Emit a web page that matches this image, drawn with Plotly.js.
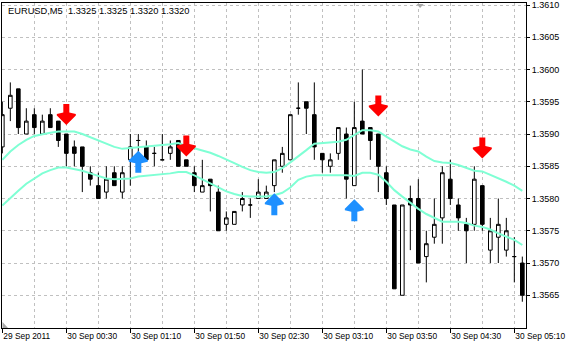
<!DOCTYPE html>
<html>
<head>
<meta charset="utf-8">
<script src="https://cdn.plot.ly/plotly-3.0.1.min.js"></script>
<style>html,body{margin:0;padding:0;background:#fff;overflow:hidden;}#chart{width:566px;height:346px;}</style>
</head>
<body>
<div id="chart"></div>
<script>
// ---- data (EURUSD, M5) ----
const openP  = [1.3588,1.3594,1.3597,1.3590,1.3593,1.3590,1.3593,1.3592,1.3590,1.3588,
                1.3588,1.3584,1.3582,1.3581,1.3584,1.3581,1.3586,1.3589,1.3588,1.3587,
                1.3586,1.3587,1.3589,1.3586,1.3584,1.3581,1.3583,1.3581,1.3576,1.3576,
                1.3579,1.3579,1.3580,1.3580,1.3582,1.3585,1.3586,1.3594,1.3595,1.3593,
                1.3587,1.3585,1.3587,1.3590,1.3582,1.3592,1.3591,1.3590,1.3584,1.3579,
                1.3565,1.3580,1.3580,1.3571,1.3574,1.3577,1.3583,1.3579,1.3576,1.3576,
                1.3582,1.3572,1.3574,1.3572,1.3571,1.3570];
const highP  = [1.3595,1.3598,1.3597,1.3594,1.3594,1.3593,1.3594,1.3592,1.3590,1.3589,
                1.3588,1.3585,1.3584,1.3585,1.3585,1.3585,1.3590,1.3590,1.3589,1.3588,
                1.3590,1.3589,1.3589,1.3586,1.3585,1.3586,1.3583,1.3582,1.3578,1.3578,
                1.3581,1.3580,1.3583,1.3582,1.3586,1.3588,1.3593,1.3598,1.3595,1.3598,
                1.3587,1.3587,1.3591,1.3591,1.3595,1.3600,1.3591,1.3590,1.3585,1.3579,
                1.3579,1.3582,1.3583,1.3575,1.3580,1.3585,1.3586,1.3580,1.3577,1.3585,
                1.3582,1.3577,1.3580,1.3577,1.3574,1.3571];
const lowP   = [1.3587,1.3592,1.3590,1.3590,1.3590,1.3590,1.3591,1.3588,1.3585,1.3585,
                1.3581,1.3582,1.3580,1.3580,1.3582,1.3580,1.3582,1.3586,1.3586,1.3585,
                1.3586,1.3586,1.3585,1.3585,1.3581,1.3581,1.3578,1.3575,1.3575,1.3576,
                1.3578,1.3577,1.3580,1.3580,1.3581,1.3584,1.3586,1.3593,1.3590,1.3586,
                1.3584,1.3584,1.3586,1.3580,1.3582,1.3590,1.3586,1.3581,1.3579,1.3566,
                1.3565,1.3572,1.3570,1.3567,1.3573,1.3573,1.3579,1.3575,1.3570,1.3575,
                1.3575,1.3570,1.3570,1.3571,1.3567,1.3564];
const closeP = [1.3593,1.3596,1.3591,1.3592,1.3591,1.3592,1.3591,1.3589,1.3587,1.3587,
                1.3585,1.3583,1.3580,1.3583,1.3582,1.3584,1.3588,1.3589,1.3586,1.3587,
                1.3586,1.3588,1.3585,1.3585,1.3582,1.3582,1.3582,1.3575,1.3577,1.3578,
                1.3580,1.3579,1.3581,1.3581,1.3586,1.3587,1.3593,1.3594,1.3594,1.3588,
                1.3586,1.3586,1.3591,1.3583,1.3591,1.3590,1.3589,1.3585,1.3580,1.3566,
                1.3579,1.3579,1.3570,1.3573,1.3576,1.3584,1.3580,1.3577,1.3575,1.3583,
                1.3576,1.3575,1.3576,1.3575,1.3571,1.3565];
const upperBand = [1.35860,1.35873,1.35883,1.35891,1.35897,1.35900,1.35902,1.35904,1.35904,1.35904,
                   1.35900,1.35895,1.35889,1.35885,1.35880,1.35877,1.35878,1.35879,1.35881,1.35881,
                   1.35882,1.35884,1.35886,1.35881,1.35878,1.35875,1.35871,1.35866,1.35861,1.35855,
                   1.35849,1.35844,1.35841,1.35840,1.35841,1.35847,1.35856,1.35865,1.35875,1.35885,
                   1.35886,1.35886,1.35888,1.35891,1.35898,1.35906,1.35906,1.35904,1.35896,1.35888,
                   1.35881,1.35876,1.35873,1.35865,1.35858,1.35856,1.35855,1.35852,1.35847,1.35843,
                   1.35842,1.35837,1.35831,1.35826,1.35820,1.35812];
const lowerBand = [1.35789,1.35801,1.35812,1.35823,1.35831,1.35839,1.35844,1.35848,1.35848,1.35846,
                   1.35843,1.35839,1.35835,1.35831,1.35830,1.35830,1.35831,1.35834,1.35835,1.35836,
                   1.35837,1.35839,1.35841,1.35841,1.35836,1.35830,1.35824,1.35817,1.35811,1.35807,
                   1.35804,1.35803,1.35803,1.35803,1.35805,1.35809,1.35817,1.35829,1.35834,1.35836,
                   1.35836,1.35836,1.35837,1.35836,1.35835,1.35840,1.35840,1.35837,1.35826,1.35813,
                   1.35803,1.35793,1.35784,1.35776,1.35770,1.35764,1.35764,1.35764,1.35762,1.35758,
                   1.35756,1.35752,1.35746,1.35741,1.35736,1.35728];
const sellBars   = [8, 23, 47, 60];
const sellPrices = [1.35914, 1.35865, 1.35927, 1.35862];
const buyBars    = [17, 34, 44];
const buyPrices  = [1.35874, 1.35808, 1.35799];
const tickBars   = [0, 8, 16, 24, 32, 40, 48, 56, 64];
const tickLabels = ['29 Sep 2011','30 Sep 00:30','30 Sep 01:10','30 Sep 01:50','30 Sep 02:30',
                    '30 Sep 03:10','30 Sep 03:50','30 Sep 04:30','30 Sep 05:10'];
const priceTicks = [1.3565,1.3570,1.3575,1.3580,1.3585,1.3590,1.3595,1.3600,1.3605,1.3610];
const headerText = 'EURUSD,M5  1.3325 1.3325 1.3320 1.3320';

// ---- build ----
const barIdx = openP.map((_, i) => i);
const FONT = 'Liberation Sans, Arial, sans-serif';
const BAND = '#7fffd4';

const traces = [
  {
    type: 'candlestick', x: barIdx, open: openP, high: highP, low: lowP, close: closeP,
    increasing: {line: {color: '#000', width: 1}, fillcolor: '#ffffff'},
    decreasing: {line: {color: '#000', width: 1}, fillcolor: '#000000'},
    whiskerwidth: 0, hoverinfo: 'skip', showlegend: false
  },
  {type: 'scatter', mode: 'lines', x: barIdx, y: upperBand, line: {color: BAND, width: 2}, hoverinfo: 'skip', showlegend: false},
  {type: 'scatter', mode: 'lines', x: barIdx, y: lowerBand, line: {color: BAND, width: 2}, hoverinfo: 'skip', showlegend: false}
];

// arrow glyph outlines in pixels relative to the tip (y up)
const downPath = 'M0,0 L9.5,9.5 L9.5,11 L3,12.5 L3,21 L-3,21 L-3,12.5 L-9.5,11 L-9.5,9.5 Z';
const upPath   = 'M0,0 L9.5,-9.5 L9.5,-11 L3,-12.5 L3,-22 L-3,-22 L-3,-12.5 L-9.5,-11 L-9.5,-9.5 Z';
const shapes = [];
sellBars.forEach((b, k) => shapes.push({
  type: 'path', xref: 'x', yref: 'y', xsizemode: 'pixel', ysizemode: 'pixel',
  xanchor: b, yanchor: sellPrices[k], path: downPath,
  fillcolor: '#ff0000', line: {width: 0}, layer: 'above'
}));
buyBars.forEach((b, k) => shapes.push({
  type: 'path', xref: 'x', yref: 'y', xsizemode: 'pixel', ysizemode: 'pixel',
  xanchor: b, yanchor: buyPrices[k], path: upPath,
  fillcolor: '#1e90ff', line: {width: 0}, layer: 'above'
}));
// small grey chart markers
shapes.push({type: 'path', xref: 'paper', yref: 'paper', xsizemode: 'pixel', ysizemode: 'pixel',
  xanchor: 0.798, yanchor: 1, path: 'M-3.5,-1 L3.5,-1 L0,-5 Z', fillcolor: '#a8a8a8', line: {width: 0}});
shapes.push({type: 'path', xref: 'paper', yref: 'paper', xsizemode: 'pixel', ysizemode: 'pixel',
  xanchor: 0, yanchor: 0, path: 'M0.5,0 L0.5,6 L6,0 Z', fillcolor: '#a8a8a8', line: {width: 0}});

const layout = {
  width: 566, height: 346,
  margin: {l: 2, r: 40, t: 3, b: 18, pad: 0},
  paper_bgcolor: '#ffffff', plot_bgcolor: '#ffffff',
  showlegend: false, hovermode: false, boxgap: 0.35,
  font: {family: FONT, size: 9, color: '#000'},
  xaxis: {
    range: [-0.04, 65.46], rangeslider: {visible: false},
    tickmode: 'array', tickvals: tickBars, ticktext: tickLabels,
    ticklabelposition: 'outside right', ticklabeloverflow: 'allow',
    ticks: 'outside', ticklen: 4, tickcolor: '#000',
    showgrid: true, gridcolor: '#c0c0c0', griddash: '3px,3px', gridwidth: 1,
    minor: {tickmode: 'linear', tick0: 0, dtick: 4, showgrid: true, gridcolor: '#c0c0c0', griddash: '3px,3px', ticks: ''},
    showline: true, linecolor: '#000', linewidth: 1, mirror: true,
    zeroline: false, fixedrange: true,
    tickfont: {family: FONT, size: 8.4, color: '#000'}
  },
  yaxis: {
    range: [1.355993, 1.361031], side: 'right',
    tickmode: 'array', tickvals: priceTicks, tickformat: '.4f',
    ticks: 'outside', ticklen: 3, tickcolor: '#000',
    showgrid: true, gridcolor: '#c0c0c0', griddash: '3px,3px', gridwidth: 1,
    showline: true, linecolor: '#000', linewidth: 1, mirror: true,
    zeroline: false, fixedrange: true,
    tickfont: {family: FONT, size: 9, color: '#000'}
  },
  shapes: shapes,
  annotations: [{
    text: headerText, xref: 'paper', yref: 'paper', x: 0, y: 1,
    xanchor: 'left', yanchor: 'top', xshift: 4, yshift: -1, showarrow: false,
    font: {family: FONT, size: 9.3, color: '#000'}
  }]
};

Plotly.newPlot('chart', traces, layout, {displayModeBar: false, staticPlot: true});
</script>
</body>
</html>
